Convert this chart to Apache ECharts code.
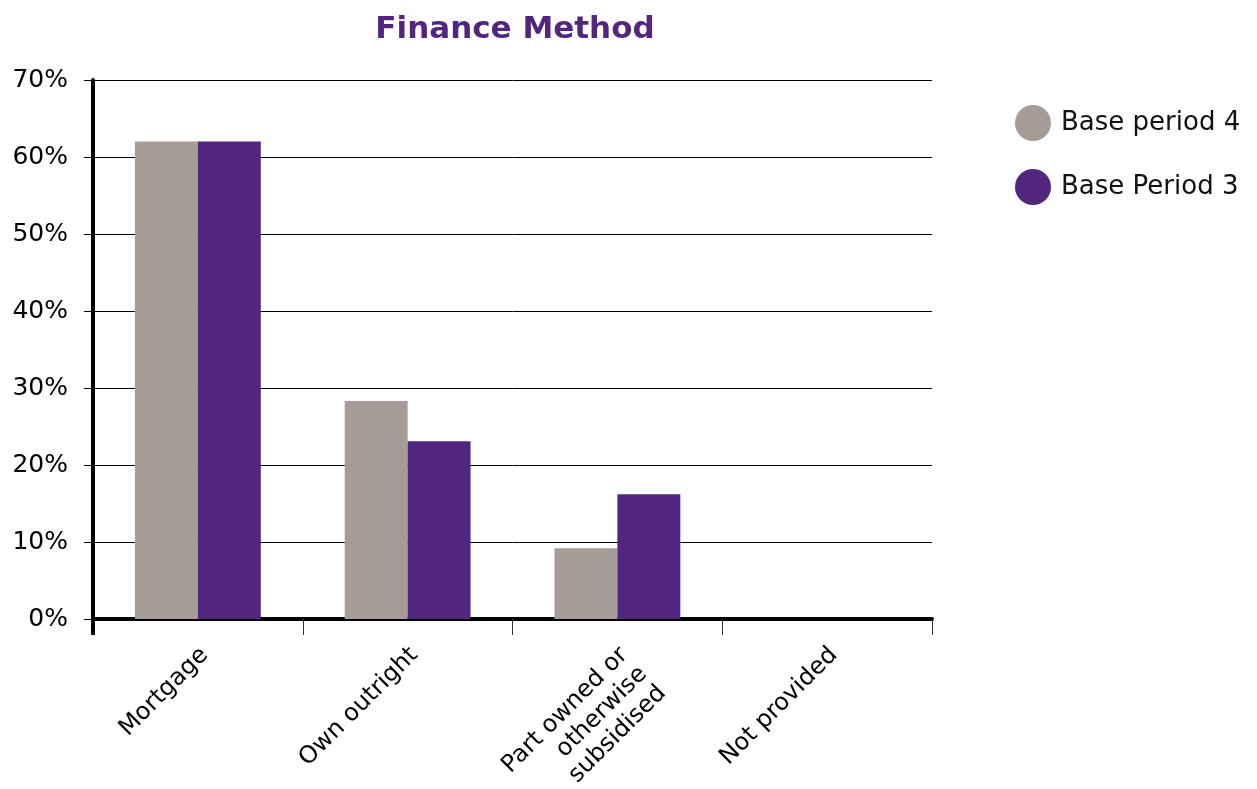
<!DOCTYPE html>
<html>
<head>
<meta charset="utf-8">
<script src="https://cdn.jsdelivr.net/npm/echarts@6/dist/echarts.min.js"></script>
<style>
  html, body { margin: 0; padding: 0; background: #ffffff; }
  #chart { width: 1257px; height: 789px; }
</style>
</head>
<body>
<div id="chart"></div>
<script>
// Finance method shares by base period (percent)
const categories = ['Mortgage', 'Own outright', 'Part owned or\notherwise\nsubsidised', 'Not provided'];
const basePeriod4 = [62.0, 28.3, 9.2, 0];
const basePeriod3 = [62.0, 23.1, 16.2, 0];
const yTicks = [0, 10, 20, 30, 40, 50, 60, 70];

const FONT = '"DejaVu Sans", sans-serif';
const GREY = '#A59C97';
const PURPLE = '#52267F';

const chart = echarts.init(document.getElementById('chart'));

const option = {
  animation: false,
  backgroundColor: '#ffffff',
  textStyle: { fontFamily: FONT },
  title: {
    text: 'Finance Method',
    left: 510,
    top: 9,
    textAlign: 'center',
    textStyle: { fontFamily: FONT, fontSize: 31, fontWeight: 'bold', color: PURPLE }
  },
  legend: {
    orient: 'vertical',
    left: 1010,
    top: 100,
    itemWidth: 36,
    itemHeight: 36,
    itemGap: 28,
    icon: 'circle',
    textStyle: { fontFamily: FONT, fontSize: 26, color: '#111111', padding: [0, 0, 0, 5] },
    data: ['Base period 4', 'Base Period 3']
  },
  grid: { left: 93, right: 325, top: 80, bottom: 170, containLabel: false, outerBoundsMode: 'none' },
  xAxis: {
    type: 'category',
    data: categories,
    axisLine: { show: true, lineStyle: { color: '#000000', width: 4 } },
    axisTick: { show: true, length: 16, lineStyle: { color: '#333333', width: 1 } },
    axisLabel: {
      rotate: 45,
      interval: 0,
      margin: 20,
      fontFamily: FONT,
      fontSize: 24,
      lineHeight: 27,
      color: '#000000',
      align: 'right',
      verticalAlign: 'top',
      padding: [0, 4, 0, 0]
    },
    splitLine: { show: false }
  },
  yAxis: {
    type: 'value',
    min: yTicks[0],
    max: yTicks[yTicks.length - 1],
    interval: 10,
    axisLine: { show: true, lineStyle: { color: '#000000', width: 4 } },
    axisTick: { show: true, length: 9, lineStyle: { color: '#000000', width: 1 } },
    axisLabel: {
      margin: 25,
      fontFamily: FONT,
      fontSize: 25,
      color: '#000000',
      formatter: v => v + '%'
    },
    splitLine: { show: true, lineStyle: { color: '#000000', width: 1 } }
  },
  series: [
    {
      name: 'Base period 4',
      type: 'bar',
      data: basePeriod4,
      itemStyle: { color: GREY },
      barGap: '0%',
      barCategoryGap: '40%'
    },
    {
      name: 'Base Period 3',
      type: 'bar',
      data: basePeriod3,
      itemStyle: { color: PURPLE },
      barGap: '0%',
      barCategoryGap: '40%'
    }
  ]
};

chart.setOption(option);

// Extend the vertical axis a little below the zero line
const origin = chart.convertToPixel({ gridIndex: 0 }, [0, 0]);
const step = chart.convertToPixel({ xAxisIndex: 0 }, 1) - chart.convertToPixel({ xAxisIndex: 0 }, 0);
const axisX = chart.convertToPixel({ xAxisIndex: 0 }, 0) - step / 2;
chart.setOption({
  graphic: [{
    type: 'line',
    shape: { x1: axisX, y1: origin[1], x2: axisX, y2: origin[1] + 16 },
    style: { stroke: '#000000', lineWidth: 4 },
    z: 100
  }]
});
</script>
</body>
</html>
